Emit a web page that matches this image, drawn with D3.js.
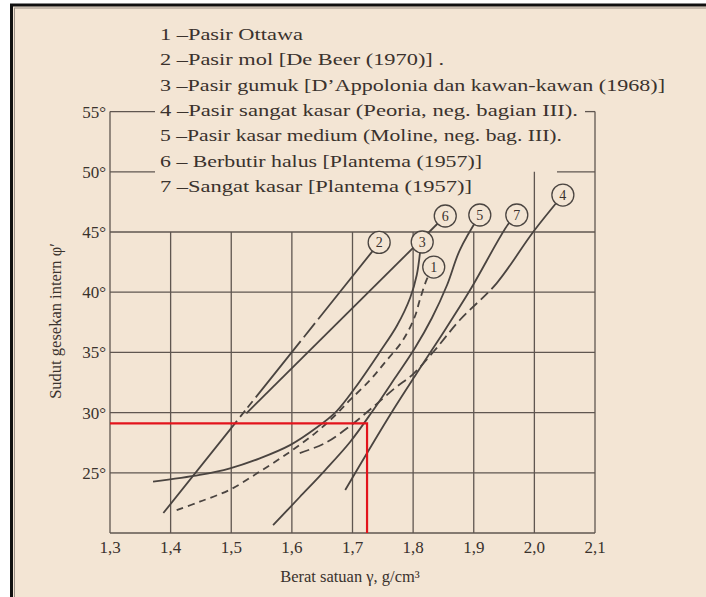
<!doctype html>
<html>
<head>
<meta charset="utf-8"/>
<title>Sudut gesekan intern vs berat satuan</title>
<script src="https://d3js.org/d3.v7.min.js"></script>
<style>
body{margin:0;background:#fff;}
svg text{font-family:"Liberation Serif","DejaVu Serif",serif;fill:#3a322d;}
</style>
</head>
<body>
<script>
// ---- data ----
var xTicks = [1.3, 1.4, 1.5, 1.6, 1.7, 1.8, 1.9, 2.0, 2.1];
var xTickLabels = ["1,3", "1,4", "1,5", "1,6", "1,7", "1,8", "1,9", "2,0", "2,1"];
var yTicks = [25, 30, 35, 40, 45];
var yTopTicks = [50, 55];
var yTickLabels = ["25°", "30°", "35°", "40°", "45°", "50°", "55°"];

var legendItems = [
  "1 \u2013Pasir Ottawa",
  "2 \u2013Pasir mol [De Beer (1970)] .",
  "3 \u2013Pasir gumuk [D\u2019Appolonia dan kawan-kawan (1968)]",
  "4 \u2013Pasir sangat kasar (Peoria, neg. bagian III).",
  "5 \u2013Pasir kasar medium (Moline, neg. bag. III).",
  "6 \u2013 Berbutir halus [Plantema (1957)]",
  "7 \u2013Sangat kasar [Plantema (1957)]"
];

// curves: [berat satuan, sudut]
var curve1 = [[1.41,21.9],[1.448,22.6],[1.498,23.6],[1.547,25.1],[1.597,26.75],[1.641,28.4],[1.674,29.9],
              [1.696,31.05],[1.729,32.7],[1.754,34.2],[1.783,36.0],[1.803,38.0],[1.811,39.35],[1.822,41.0],[1.829,41.7]];
var curve2 = [[1.388,21.66],[1.744,44.1]];
var curve3 = [[1.371,24.26],[1.448,24.82],[1.498,25.37],[1.547,26.2],[1.597,27.3],[1.641,28.76],[1.674,30.13],
              [1.704,32.04],[1.745,35.03],[1.773,37.19],[1.795,39.52],[1.806,41.43],[1.812,43.6]];
var curve4 = [[1.613,26.64],[1.655,27.47],[1.696,28.89],[1.732,30.38],[1.770,32.04],[1.800,33.2],[1.836,35.2],
              [1.877,37.69],[1.938,40.76],[1.998,45.0],[2.047,48.07]];
var curve5 = [[1.569,20.66],[1.613,22.99],[1.655,25.23],[1.696,27.56],[1.732,30.05],[1.770,32.87],[1.803,35.37],
              [1.831,37.86],[1.856,40.6],[1.877,43.5],[1.910,46.41]];
var curve6 = [[1.525,29.94],[1.853,46.33]];
var curve7 = [[1.688,23.57],[1.729,27.06],[1.765,30.05],[1.803,33.04],[1.844,36.2],[1.894,40.18],[1.957,45.66],[1.971,46.41]];

var labelNames = ["1", "2", "3", "4", "5", "6", "7"];
var labelX = [1.834, 1.744, 1.815, 2.047, 1.910, 1.853, 1.971];
var labelY = [42.09, 44.13, 44.17, 48.07, 46.41, 46.33, 46.41];

// red reading lines
var readX = 1.724, readY = 29.1;

// ---- drawing ----
var W = 706, H = 597;
var bg = "#f3e5d4", ink = "#4a4440", grid = "#5f5650";

var svg = d3.select("body").append("svg").attr("width", W).attr("height", H);

svg.append("rect").attr("width", W).attr("height", H).attr("fill", "#fff");
svg.append("rect").attr("x", 11.5).attr("y", 5).attr("width", W + 20).attr("height", H + 20)
   .attr("fill", bg).attr("stroke", "#111").attr("stroke-width", 3);
svg.append("rect").attr("x", 14.5).attr("y", 8).attr("width", W + 20).attr("height", H + 20)
   .attr("fill", "none").attr("stroke", "#9a8f86").attr("stroke-width", 1);

var x = d3.scaleLinear().domain([1.3, 2.1]).range([110, 595]);
var y = d3.scaleLinear().domain([20, 45]).range([533, 232]);

var g = svg.append("g");

// vertical grid
g.selectAll(".vg").data(xTicks).enter().append("line")
  .attr("x1", d => x(d)).attr("x2", d => x(d))
  .attr("y1", y(20))
  .attr("y2", d => (d === 1.3 || d === 2.1) ? y(55) : (d === 2.0 ? y(50) : y(45)))
  .attr("stroke", grid).attr("stroke-width", 1.3);

// horizontal grid
g.selectAll(".hg").data([20].concat(yTicks)).enter().append("line")
  .attr("x1", x(1.3)).attr("x2", x(2.1))
  .attr("y1", d => y(d)).attr("y2", d => y(d))
  .attr("stroke", grid).attr("stroke-width", 1.3);

// bracket ticks at 50 and 55
g.selectAll(".lt").data(yTopTicks).enter().append("line")
  .attr("x1", x(1.3)).attr("x2", x(1.3) + 45)
  .attr("y1", d => y(d)).attr("y2", d => y(d))
  .attr("stroke", grid).attr("stroke-width", 1.3);
g.selectAll(".rt").data(yTopTicks).enter().append("line")
  .attr("x1", d => d === 55 ? x(2.1) - 10 : x(2.1) - 38).attr("x2", x(2.1))
  .attr("y1", d => y(d)).attr("y2", d => y(d))
  .attr("stroke", grid).attr("stroke-width", 1.3);

// tick labels
g.selectAll(".xl").data(xTicks).enter().append("text")
  .attr("x", d => x(d)).attr("y", y(20) + 20)
  .attr("text-anchor", "middle").attr("font-size", 17)
  .text((d, i) => xTickLabels[i]);

g.selectAll(".yl").data(yTicks.concat(yTopTicks)).enter().append("text")
  .attr("x", x(1.3) - 4).attr("y", d => y(d) + 6)
  .attr("text-anchor", "end").attr("font-size", 17)
  .text((d, i) => yTickLabels[i]);

// axis titles
svg.append("text").attr("x", 350).attr("y", 582).attr("text-anchor", "middle")
  .attr("font-size", 16.5).text("Berat satuan \u03b3, g/cm\u00b3");
svg.append("text").attr("transform", "translate(61,321) rotate(-90)").attr("text-anchor", "middle")
  .attr("font-size", 16.5).text("Sudut gesekan intern \u03c6\u2032");

// legend
var legendWidths = [143, 284, 505, 418, 402, 322, 312];
svg.selectAll(".lg").data(legendItems).enter().append("text")
  .attr("x", 160).attr("y", (d, i) => 40 + i * 25.3)
  .attr("font-size", 17.5)
  .attr("textLength", (d, i) => legendWidths[i]).attr("lengthAdjust", "spacingAndGlyphs")
  .text(d => d);

// curves
var smooth = d3.line().x(d => x(d[0])).y(d => y(d[1])).curve(d3.curveCatmullRom.alpha(0.5));
var straight = d3.line().x(d => x(d[0])).y(d => y(d[1]));

var dash4 = d3.range(17).map(() => "10,5").join(",") + ",400";
var curves = [
  {pts: curve1, gen: smooth, dash: "7,5"},
  {pts: curve2, gen: straight, dash: "118,5,8,4,8,5,72,5,18,5,400"},
  {pts: curve3, gen: smooth, dash: null},
  {pts: curve4, gen: smooth, dash: dash4},
  {pts: curve5, gen: smooth, dash: null},
  {pts: curve6, gen: straight, dash: null},
  {pts: curve7, gen: smooth, dash: null}
];
g.selectAll(".cv").data(curves).enter().append("path")
  .attr("d", d => d.gen(d.pts))
  .attr("fill", "none").attr("stroke", ink).attr("stroke-width", 1.8)
  .attr("stroke-dasharray", d => d.dash);

// numbered circles
var lab = g.selectAll(".cl").data(labelNames).enter().append("g")
  .attr("transform", (d, i) => "translate(" + x(labelX[i]) + "," + y(labelY[i]) + ")");
lab.append("circle").attr("r", 11).attr("fill", bg).attr("stroke", ink).attr("stroke-width", 1.3);
lab.append("text").attr("text-anchor", "middle").attr("y", 5).attr("font-size", 14).text(d => d);

// red reading lines
g.append("path")
  .attr("d", d3.line()([[x(1.3), y(readY)], [x(readX), y(readY)], [x(readX), y(20)]]))
  .attr("fill", "none").attr("stroke", "#e3141c").attr("stroke-width", 2.2);
</script>
</body>
</html>
